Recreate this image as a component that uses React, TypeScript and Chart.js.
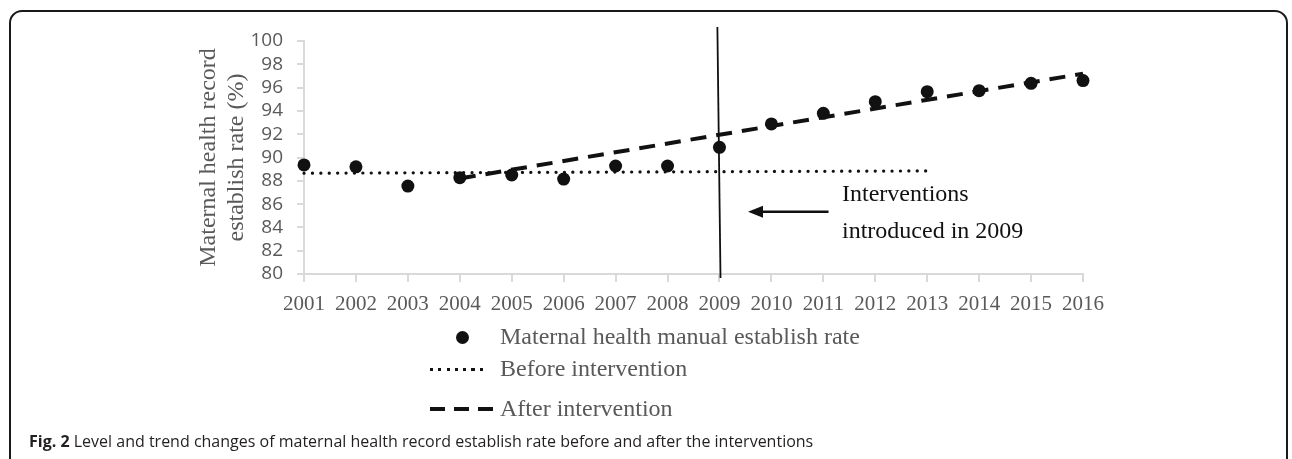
import React, { useEffect, useRef } from 'react';
import { Chart, registerables } from 'chart.js';

Chart.register(...registerables);

// ---- data ----
const years = [2001, 2002, 2003, 2004, 2005, 2006, 2007, 2008, 2009, 2010, 2011, 2012, 2013, 2014, 2015, 2016];
const rates = [89.36, 89.2, 87.55, 88.27, 88.5, 88.15, 89.27, 89.27, 90.87, 92.88, 93.79, 94.79, 95.65, 95.74, 96.37, 96.6];

const beforeYears = [2001, 2013];
const beforeValues = [88.65, 88.85];

const afterYears = [2004, 2016];
const afterValues = [88.2, 97.2];

const interventionLineX = [2008.96, 2009.02];
const interventionLineY = [101.2, 79.66];

const arrowFrom = [2011.1, 85.35];
const arrowTo = [2009.55, 85.35];

const noteLines = ['Interventions', 'introduced in 2009'];
const noteX = 2011.36;
const noteY = [86.8, 83.65];

const yTicks = [80, 82, 84, 86, 88, 90, 92, 94, 96, 98, 100];
const yTitle = ['Maternal health record', 'establish rate (%)'];

const legendLabels = ['Maternal health manual establish rate', 'Before intervention', 'After intervention'];
const captionBold = 'Fig. 2';
const captionText = ' Level and trend changes of maternal health record establish rate before and after the interventions';

const INK = '#111111';
const GREY_TEXT = '#595959';
const AXIS_GREY = '#d9d9d9';

const annotationPlugin = {
  id: 'interventionAnnotation',
  afterDatasetsDraw(chart: any) {
    const { ctx, scales } = chart;
    const xs = scales.x;
    const ys = scales.y;
    const x1 = xs.getPixelForValue(arrowFrom[0]);
    const y1 = ys.getPixelForValue(arrowFrom[1]);
    const x2 = xs.getPixelForValue(arrowTo[0]);
    const y2 = ys.getPixelForValue(arrowTo[1]);
    const head = 15;
    const half = 6;
    ctx.save();
    ctx.strokeStyle = INK;
    ctx.fillStyle = INK;
    ctx.lineWidth = 2.5;
    ctx.beginPath();
    ctx.moveTo(x1, y1);
    ctx.lineTo(x2 + head - 2, y2);
    ctx.stroke();
    ctx.beginPath();
    ctx.moveTo(x2, y2);
    ctx.lineTo(x2 + head, y2 - half);
    ctx.lineTo(x2 + head, y2 + half);
    ctx.closePath();
    ctx.fill();

    ctx.font = '24px "Liberation Serif", "Times New Roman", serif';
    ctx.textAlign = 'left';
    ctx.textBaseline = 'middle';
    ctx.fillStyle = INK;
    noteLines.forEach((line, i) => {
      ctx.fillText(line, xs.getPixelForValue(noteX), ys.getPixelForValue(noteY[i]));
    });
    ctx.restore();
  },
};

function App() {
  const canvasRef = useRef<HTMLCanvasElement | null>(null);

  useEffect(() => {
    const canvas = canvasRef.current;
    if (!canvas) return;
    const chart = new Chart(canvas, {
      type: 'scatter',
      data: {
        datasets: [
          {
            label: legendLabels[0],
            data: years.map((yr, i) => ({ x: yr, y: rates[i] })),
            showLine: false,
            pointRadius: 6.5,
            pointHoverRadius: 6.5,
            pointBackgroundColor: INK,
            pointBorderColor: INK,
            pointBorderWidth: 0,
            clip: false,
            order: 0,
          } as any,
          {
            label: legendLabels[1],
            data: beforeYears.map((yr, i) => ({ x: yr, y: beforeValues[i] })),
            showLine: true,
            borderColor: INK,
            borderWidth: 3.2,
            borderDash: [0.1, 8.3],
            borderCapStyle: 'round',
            pointRadius: 0,
            clip: false,
            order: 1,
          } as any,
          {
            label: legendLabels[2],
            data: afterYears.map((yr, i) => ({ x: yr, y: afterValues[i] })),
            showLine: true,
            borderColor: INK,
            borderWidth: 4,
            borderDash: [16, 10],
            pointRadius: 0,
            clip: false,
            order: 2,
          } as any,
          {
            label: 'Intervention',
            data: interventionLineX.map((xv, i) => ({ x: xv, y: interventionLineY[i] })),
            showLine: true,
            borderColor: INK,
            borderWidth: 1.8,
            pointRadius: 0,
            clip: false,
            order: 3,
          } as any,
        ],
      },
      options: {
        animation: false,
        responsive: false,
        devicePixelRatio: 1,
        layout: { padding: { top: 41, right: 209, bottom: 145, left: 0 } },
        plugins: {
          legend: { display: false },
          tooltip: { enabled: false },
        },
        scales: {
          x: {
            type: 'linear',
            min: 2001,
            max: 2016,
            afterFit: (s: any) => { s.height = 40; },
            afterBuildTicks: (s: any) => { s.ticks = years.map((v) => ({ value: v })); },
            ticks: {
              autoSkip: false,
              maxRotation: 0,
              padding: 10,
              color: GREY_TEXT,
              font: { family: '"Liberation Serif", "Times New Roman", serif', size: 21 },
              callback: (v: any) => String(v),
            },
            grid: { display: true, drawOnChartArea: false, drawTicks: true, tickLength: 8, color: AXIS_GREY, lineWidth: 2 },
            border: { display: true, color: AXIS_GREY, width: 2 },
          },
          y: {
            type: 'linear',
            min: 80,
            max: 100,
            afterFit: (s: any) => { s.width = 304; },
            afterBuildTicks: (s: any) => { s.ticks = yTicks.map((v) => ({ value: v })); },
            ticks: {
              autoSkip: false,
              padding: 14,
              color: GREY_TEXT,
              font: { family: '"Open Sans", "Liberation Sans", sans-serif', size: 19 },
              callback: (v: any) => String(v),
            },
            grid: { display: true, drawOnChartArea: false, drawTicks: true, tickLength: 7, color: AXIS_GREY, lineWidth: 2 },
            border: { display: true, color: AXIS_GREY, width: 2 },
            title: {
              display: true,
              text: yTitle,
              color: GREY_TEXT,
              font: { family: '"Liberation Serif", "Times New Roman", serif', size: 24, lineHeight: 1.2 },
              padding: { top: 194, bottom: 0 },
            },
          },
        },
      },
      plugins: [annotationPlugin],
    });
    return () => chart.destroy();
  }, []);

  const legendText: React.CSSProperties = {
    position: 'absolute',
    left: 500,
    fontFamily: '"Liberation Serif", "Times New Roman", serif',
    fontSize: 24,
    lineHeight: '30px',
    color: GREY_TEXT,
    whiteSpace: 'nowrap',
  };

  return (
    <div style={{ position: 'absolute', left: 0, top: 0, width: 1292, height: 459, background: '#fff', overflow: 'hidden' }}>
      <div
        style={{
          position: 'absolute',
          left: 9,
          top: 10,
          width: 1279,
          height: 520,
          border: '2.5px solid #1a1a1a',
          borderRadius: 13,
          boxSizing: 'border-box',
        }}
      />
      <canvas ref={canvasRef} width={1292} height={459} style={{ position: 'absolute', left: 0, top: 0, width: 1292, height: 459 }} />
      {/* legend */}
      <div style={{ position: 'absolute', left: 455.5, top: 330.5, width: 13, height: 13, borderRadius: '50%', background: INK }} />
      <div style={{ ...legendText, top: 337 - 16 }}>{legendLabels[0]}</div>
      <div
        style={{
          position: 'absolute', left: 430, top: 368, width: 58, height: 3,
          background: `repeating-linear-gradient(to right, ${INK} 0 3px, transparent 3px 8.3px)`,
        }}
      />
      <div style={{ ...legendText, top: 369 - 16 }}>{legendLabels[1]}</div>
      <div
        style={{
          position: 'absolute', left: 430, top: 407, width: 63, height: 4,
          background: `repeating-linear-gradient(to right, ${INK} 0 15px, transparent 15px 24px)`,
        }}
      />
      <div style={{ ...legendText, top: 409 - 16 }}>{legendLabels[2]}</div>
      {/* caption */}
      <div
        style={{
          position: 'absolute', left: 29, top: 430,
          fontFamily: '"Open Sans", "Noto Sans", sans-serif', fontSize: 16, lineHeight: '22px',
          color: '#231f20', whiteSpace: 'nowrap',
        }}
      >
        <b>{captionBold}</b>{captionText}
      </div>
    </div>
  );
}

export default App;
